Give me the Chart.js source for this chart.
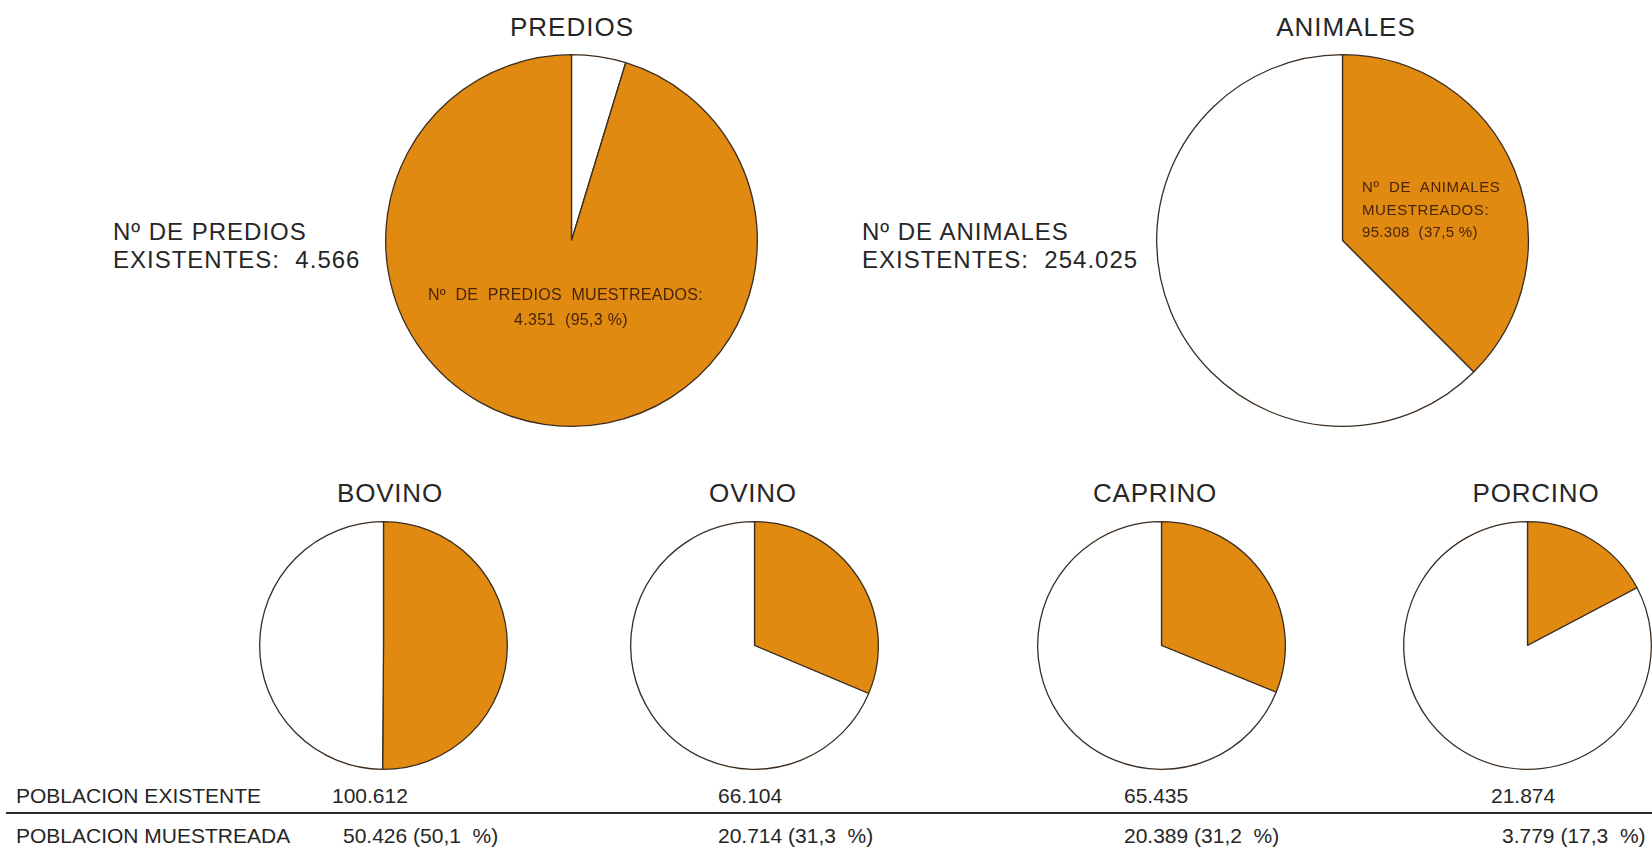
<!DOCTYPE html>
<html>
<head>
<meta charset="utf-8">
<script src="https://cdn.jsdelivr.net/npm/chart.js@4.4.1/dist/chart.umd.min.js"></script>
<style>
  html, body { margin: 0; padding: 0; background: #ffffff; }
  #page { position: relative; width: 1652px; height: 849px; overflow: hidden; background: #ffffff;
          font-family: 'Liberation Sans', Arial, Helvetica, sans-serif; color: #262626; }
  .t { position: absolute; white-space: pre; line-height: 1; }
  .c { transform: translate(-50%, -50%); }
  .l { transform: translate(0, -50%); }
  .pie { position: absolute; }
  .rule { position: absolute; left: 6px; right: 0; height: 2px; background: #2b2b2b; }
</style>
</head>
<body>
<div id="page"></div>
<script>
// ---------------- data ----------------
const bigTitles = ['PREDIOS', 'ANIMALES'];
const bigLabelWord = ['PREDIOS', 'ANIMALES'];
const bigExistentes = [4566, 254025];
const bigMuestreados = [4351, 95308];

const smallTitles = ['BOVINO', 'OVINO', 'CAPRINO', 'PORCINO'];
const poblacionExistente = [100612, 66104, 65435, 21874];
const poblacionMuestreada = [50426, 20714, 20389, 3779];

const rowLabels = ['POBLACION EXISTENTE', 'POBLACION MUESTREADA'];

// ---------------- styles / layout ----------------
const ORANGE = '#E08A12';
const WHITE = '#FFFFFF';
const EDGE = '#3a2c20';

const page = document.getElementById('page');

function fmt(n) {
  return String(n).replace(/\B(?=(\d{3})+(?!\d))/g, '.');
}
function pct(a, b) {
  return (Math.round(a / b * 1000) / 10).toFixed(1).replace('.', ',');
}
function text(str, x, y, opts) {
  const d = document.createElement('div');
  d.className = 't ' + (opts.center ? 'c' : 'l');
  d.textContent = str;
  d.style.left = x + 'px';
  d.style.top = y + 'px';
  d.style.fontSize = opts.size + 'px';
  if (opts.ls) d.style.letterSpacing = opts.ls + 'px';
  if (opts.color) d.style.color = opts.color;
  page.appendChild(d);
}

function makePie(cx, cy, r, values, colors) {
  const pad = 3, bw = 1.3;
  const size = Math.round(2 * r + bw + 2 * pad);
  const wrap = document.createElement('div');
  wrap.className = 'pie';
  wrap.style.left = (cx - size / 2) + 'px';
  wrap.style.top = (cy - size / 2) + 'px';
  wrap.style.width = size + 'px';
  wrap.style.height = size + 'px';
  const cv = document.createElement('canvas');
  wrap.appendChild(cv);
  page.appendChild(wrap);
  new Chart(cv, {
    type: 'pie',
    data: {
      labels: values.map((_, i) => 'v' + i),
      datasets: [{
        data: values,
        backgroundColor: colors,
        borderColor: EDGE,
        borderWidth: bw,
        borderAlign: 'center'
      }]
    },
    options: {
      responsive: true,
      maintainAspectRatio: false,
      animation: false,
      layout: { padding: pad },
      plugins: { legend: { display: false }, tooltip: { enabled: false }, title: { display: false } }
    }
  });
}

// ---------- big pies ----------
const bigCx = [571, 1342];
const bigCy = 240;
const bigR = 186;

// PREDIOS: non-sampled (white) first, then sampled (orange)
makePie(bigCx[0], bigCy, bigR,
  [bigExistentes[0] - bigMuestreados[0], bigMuestreados[0]], [WHITE, ORANGE]);
// ANIMALES: sampled (orange) first, then the rest (white)
makePie(bigCx[1], bigCy, bigR,
  [bigMuestreados[1], bigExistentes[1] - bigMuestreados[1]], [ORANGE, WHITE]);

text(bigTitles[0], 572, 27, { center: true, size: 26, ls: 1 });
text(bigTitles[1], 1346, 27, { center: true, size: 26, ls: 1 });

// side labels
const sideLeft = [113, 862];
for (let i = 0; i < 2; i++) {
  text('N\u00BA DE ' + bigLabelWord[i], sideLeft[i], 232, { size: 24, ls: 1 });
  text('EXISTENTES:  ' + fmt(bigExistentes[i]), sideLeft[i], 260, { size: 24, ls: 1 });
}

// inside labels
const INK = '#4a2408';
text('N\u00BA  DE  PREDIOS  MUESTREADOS:', 428, 295, { size: 16, ls: 0.3, color: INK });
text(fmt(bigMuestreados[0]) + '  (' + pct(bigMuestreados[0], bigExistentes[0]) + ' %)', 514, 320, { size: 16, ls: 0.3, color: INK });

text('N\u00BA  DE  ANIMALES', 1362, 186, { size: 15, ls: 0.6, color: INK });
text('MUESTREADOS:', 1362, 209, { size: 15, ls: 0.6, color: INK });
text(fmt(bigMuestreados[1]) + '  (' + pct(bigMuestreados[1], bigExistentes[1]) + ' %)', 1362, 231, { size: 15, ls: 0.3, color: INK });

// ---------- small pies ----------
const smallCx = [383, 754, 1161, 1527];
const smallTitleX = [390, 753, 1155, 1536];
const smallCy = 645;
const smallR = 124;
for (let i = 0; i < smallTitles.length; i++) {
  makePie(smallCx[i], smallCy, smallR,
    [poblacionMuestreada[i], poblacionExistente[i] - poblacionMuestreada[i]], [ORANGE, WHITE]);
  text(smallTitles[i], smallTitleX[i], 493, { center: true, size: 26, ls: 0.8 });
}

// ---------- table ----------
const row1Y = 795, row2Y = 835;
text(rowLabels[0], 16, row1Y, { size: 21 });
text(rowLabels[1], 16, row2Y, { size: 21 });
const col1X = [332, 718, 1124, 1491];
const col2X = [343, 718, 1124, 1502];
for (let i = 0; i < poblacionExistente.length; i++) {
  text(fmt(poblacionExistente[i]), col1X[i], row1Y, { size: 21 });
  text(fmt(poblacionMuestreada[i]) + ' (' + pct(poblacionMuestreada[i], poblacionExistente[i]) + '  %)',
       col2X[i], row2Y, { size: 21 });
}
const rule = document.createElement('div');
rule.className = 'rule';
rule.style.top = '812px';
page.appendChild(rule);
</script>
</body>
</html>
